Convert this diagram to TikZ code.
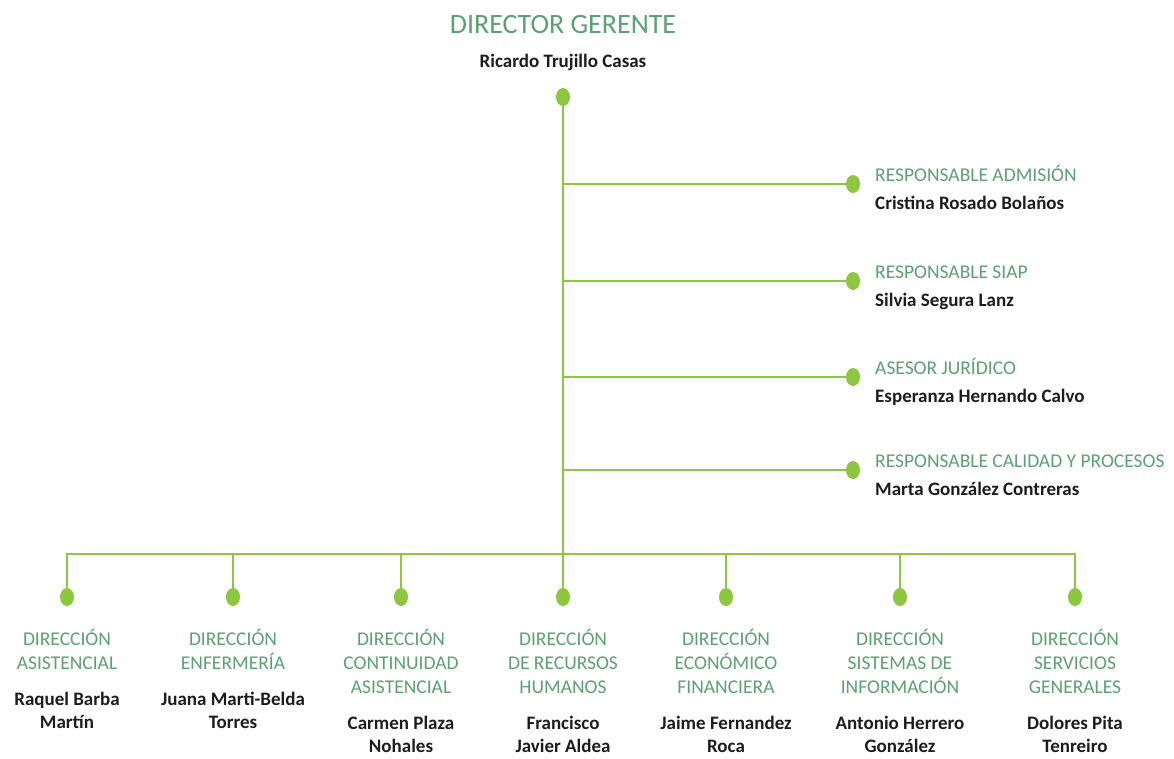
\documentclass[tikz,border=0pt]{standalone}
\usepackage{fontspec}
\setmainfont{Carlito}
\usetikzlibrary{positioning,shapes.geometric}
\definecolor{leaf}{RGB}{141,198,63}
\definecolor{sage}{RGB}{92,160,116}
\definecolor{ink}{RGB}{28,28,28}

\begin{document}
\begin{tikzpicture}[
    x=1pt, y=-1pt,
    dot/.style={ellipse, fill=leaf, inner sep=0pt, minimum width=14pt, minimum height=18pt},
    link/.style={draw=leaf, line width=2.2pt},
    chief/.style={text=sage, font=\fontsize{28}{32}\selectfont, inner sep=0pt},
    rank/.style={text=sage, font=\fontsize{19.5}{24}\selectfont, align=center, inner sep=0pt},
    who/.style={text=ink, font=\bfseries\fontsize{19}{23}\selectfont, align=center, inner sep=0pt}
  ]
    \useasboundingbox (0,0) rectangle (1174,758);

    % Director gerente
    \node[dot] (top) at (563,97) {};
    \node[who, anchor=base] (ceoN) at ([yshift=30pt]top.center) {Ricardo Trujillo Casas};
    \node[chief, anchor=base] (ceoT) at ([yshift=34pt]ceoN.base) {DIRECTOR GERENTE};

    % Staff on the right
    \node[dot] (adm) at (853,184) {};
    \node[dot] (siap) at (853,281) {};
    \node[dot] (jur) at (853,377) {};
    \node[dot] (cal) at (853,470) {};
    \coordinate (bar) at (563,554);

    \node[rank, anchor=base west] (admT) at ([xshift=22pt,yshift=3pt]adm.center) {RESPONSABLE ADMISIÓN};
    \node[who, anchor=base west] (admN) at ([yshift=-28pt]admT.base west) {Cristina Rosado Bolaños};
    \node[rank, anchor=base west] (siapT) at ([xshift=22pt,yshift=3pt]siap.center) {RESPONSABLE SIAP};
    \node[who, anchor=base west] (siapN) at ([yshift=-28pt]siapT.base west) {Silvia Segura Lanz};
    \node[rank, anchor=base west] (jurT) at ([xshift=22pt,yshift=3pt]jur.center) {ASESOR JURÍDICO};
    \node[who, anchor=base west] (jurN) at ([yshift=-28pt]jurT.base west) {Esperanza Hernando Calvo};
    \node[rank, anchor=base west] (calT) at ([xshift=22pt,yshift=3pt]cal.center) {RESPONSABLE CALIDAD Y PROCESOS};
    \node[who, anchor=base west] (calN) at ([yshift=-28pt]calT.base west) {Marta González Contreras};

    % Direcciones
    \node[dot] (asis) at (67,597) {};
    \node[dot] (enf) at (233,597) {};
    \node[dot] (cont) at (401,597) {};
    \node[dot] (rrhh) at (563,597) {};
    \node[dot] (econ) at (726,597) {};
    \node[dot] (sist) at (900,597) {};
    \node[dot] (serv) at (1075,597) {};

    \node[rank, below=23pt of asis] (asisT) {DIRECCIÓN\\ASISTENCIAL};
    \node[who, below=22pt of asisT] (asisN) {Raquel Barba\\Martín};
    \node[rank, below=23pt of enf] (enfT) {DIRECCIÓN\\ENFERMERÍA};
    \node[who, below=22pt of enfT] (enfN) {Juana Marti-Belda\\Torres};
    \node[rank, below=23pt of cont] (contT) {DIRECCIÓN\\CONTINUIDAD\\ASISTENCIAL};
    \node[who, below=22pt of contT] (contN) {Carmen Plaza\\Nohales};
    \node[rank, below=23pt of rrhh] (rrhhT) {DIRECCIÓN\\DE RECURSOS\\HUMANOS};
    \node[who, below=22pt of rrhhT] (rrhhN) {Francisco\\Javier Aldea};
    \node[rank, below=23pt of econ] (econT) {DIRECCIÓN\\ECONÓMICO\\FINANCIERA};
    \node[who, below=22pt of econT] (econN) {Jaime Fernandez\\Roca};
    \node[rank, below=23pt of sist] (sistT) {DIRECCIÓN\\SISTEMAS DE\\INFORMACIÓN};
    \node[who, below=22pt of sistT] (sistN) {Antonio Herrero\\González};
    \node[rank, below=23pt of serv] (servT) {DIRECCIÓN\\SERVICIOS\\GENERALES};
    \node[who, below=22pt of servT] (servN) {Dolores Pita\\Tenreiro};

    % Lines
    \draw[link] (top) -- (rrhh);
    \draw[link] (top |- adm) -- (adm);
    \draw[link] (top |- siap) -- (siap);
    \draw[link] (top |- jur) -- (jur);
    \draw[link] (top |- cal) -- (cal);
    \draw[link] (asis) -- (asis |- bar) -- (serv |- bar) -- (serv);
    \draw[link] (enf) -- (enf |- bar);
    \draw[link] (cont) -- (cont |- bar);
    \draw[link] (econ) -- (econ |- bar);
    \draw[link] (sist) -- (sist |- bar);
  \end{tikzpicture}
\end{document}
